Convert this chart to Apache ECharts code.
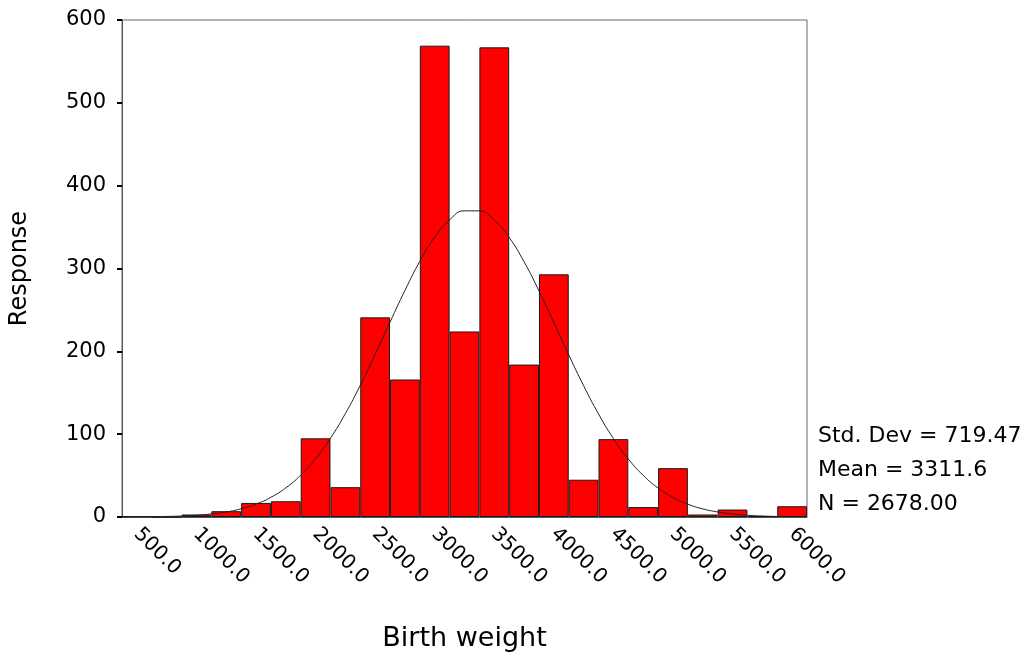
<!DOCTYPE html>
<html>
<head>
<meta charset="utf-8">
<script src="https://cdn.jsdelivr.net/npm/echarts@6/dist/echarts.min.js"></script>
<style>
html,body{margin:0;padding:0;background:#fff;}
#chart{width:1032px;height:657px;}
</style>
</head>
<body>
<div id="chart"></div>
<script>
// Bin centers (bin width 250)
const binCenters = [500,750,1000,1250,1500,1750,2000,2250,2500,2750,3000,3250,3500,3750,4000,4250,4500,4750,5000,5250,5500,5750,6000];
// Counts
const counts = [1,0,3,7,17,19,95,36,241,166,569,224,567,184,293,45,94,12,59,3,9,1,13];
// Fitted normal curve
const curveX = [375,500,625,750,875,1000,1125,1250,1375,1500,1625,1750,1875,2000,2125,2250,2375,2500,2625,2750,2875,3000,3125,3250,3375,3500,3625,3750,3875,4000,4125,4250,4375,4500,4625,4750,4875,5000,5125,5250,5375,5500,5625,5750,5875,6000,6125];
const curveY = [0.1,0.2,0.35,0.7,1.2,2.1,3.7,6.1,9.9,15.6,23.8,35.2,50.5,70.4,95.2,124.9,159.0,196.4,235.3,273.5,308.6,337.8,358.7,369.6,369.6,358.5,337.4,308.1,273.0,234.7,195.8,158.5,124.4,94.8,70.1,50.3,35.0,23.6,15.5,9.8,6.1,3.6,2.1,1.2,0.65,0.3,0.15];
const yTicks = [0,100,200,300,400,500,600];
const statsLines = ['Std. Dev = 719.47','Mean = 3311.6','N = 2678.00'];

const FONT = 'DejaVu Sans';
const chart = echarts.init(document.getElementById('chart'));
chart.setOption({
  animation:false,
  backgroundColor:'#fff',
  grid:{left:122,right:225,top:20,bottom:137,show:true,borderColor:'#666',borderWidth:1,backgroundColor:'transparent'},
  xAxis:[{
    type:'category',
    data:binCenters.map(v=>v.toFixed(1)),
    boundaryGap:true,
    name:'Birth weight',
    nameLocation:'middle',
    nameGap:108,
    nameTextStyle:{fontFamily:FONT,fontSize:27,color:'#000'},
    axisLine:{lineStyle:{color:'#555',width:1}},
    axisTick:{alignWithLabel:true,interval:1,length:4,lineStyle:{color:'#000',width:3}},
    axisLabel:{interval:1,rotate:-45,margin:14,fontFamily:FONT,fontSize:20,color:'#000'},
    splitLine:{show:false}
  },{
    type:'value',min:375,max:6125,show:false
  }],
  yAxis:{
    type:'value',min:yTicks[0],max:yTicks[yTicks.length-1],interval:100,
    name:'Response',
    nameLocation:'middle',
    nameGap:90,
    nameTextStyle:{fontFamily:FONT,fontSize:24,color:'#000'},
    axisLine:{show:true,lineStyle:{color:'#555',width:1}},
    axisTick:{show:true,length:5,lineStyle:{color:'#000',width:2}},
    axisLabel:{margin:16,fontFamily:FONT,fontSize:21,color:'#000'},
    splitLine:{show:false}
  },
  series:[{
    type:'bar',
    xAxisIndex:0,
    data:counts,
    barCategoryGap:'0%',
    itemStyle:{color:'#ff0000',borderColor:'#1a1a1a',borderWidth:1}
  },{
    type:'line',
    xAxisIndex:1,
    data:curveX.map((x,i)=>[x,curveY[i]]),
    smooth:true,
    symbol:'none',
    lineStyle:{color:'#222',width:1},
    z:5
  }],
  graphic:statsLines.map((t,i)=>({
    type:'text',left:818,top:425+i*34,
    style:{text:t,fontFamily:FONT,fontSize:22,fill:'#000'}
  }))
});
</script>
</body>
</html>
